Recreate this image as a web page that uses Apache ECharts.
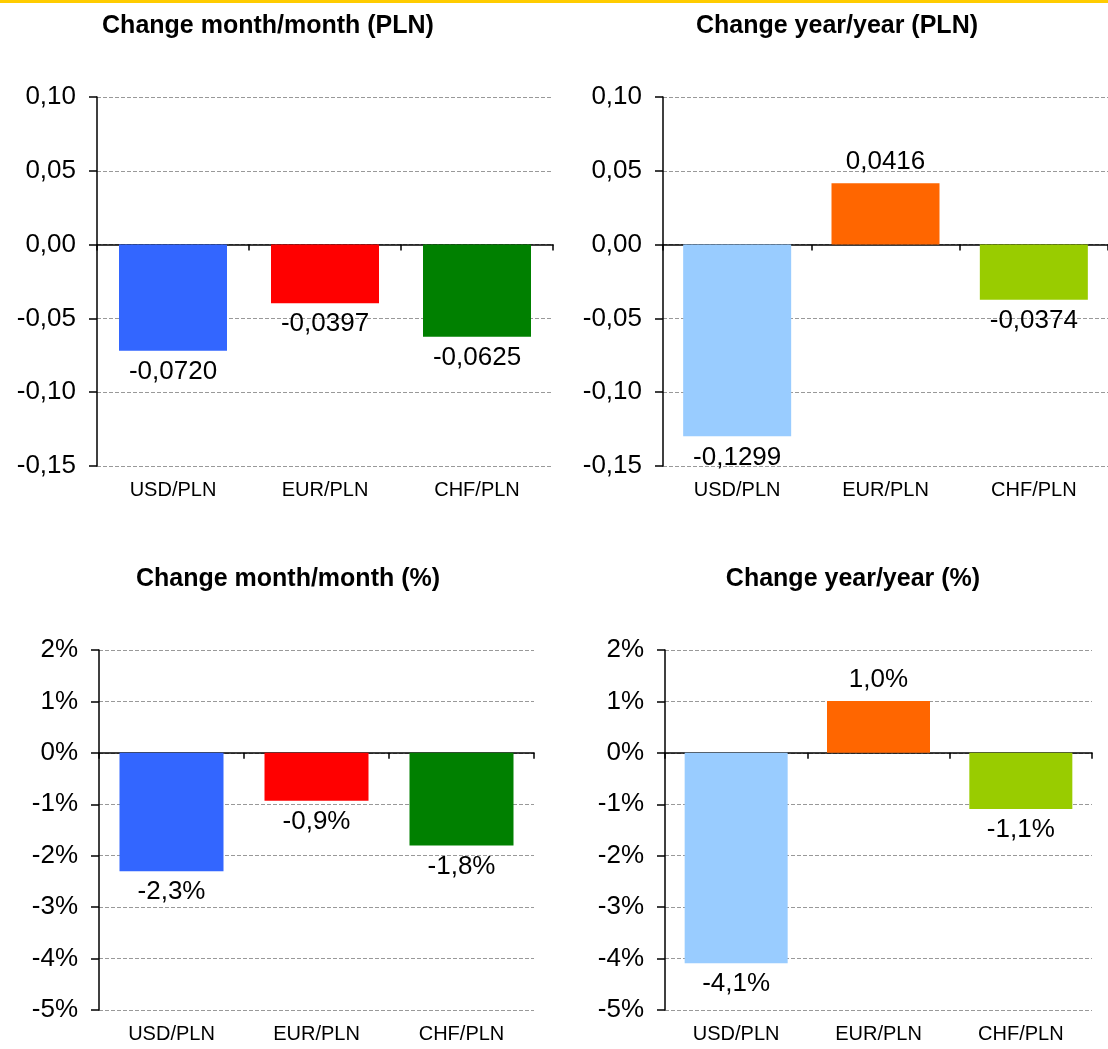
<!DOCTYPE html>
<html>
<head>
<meta charset="utf-8">
<script src="https://cdn.jsdelivr.net/npm/echarts@6/dist/echarts.min.js"></script>
<style>
  html, body { margin: 0; padding: 0; background: #fff; }
  #chart { width: 1108px; height: 1049px; }
</style>
</head>
<body>
<div id="chart"></div>
<script>
// data
var pairs = ["USD/PLN", "EUR/PLN", "CHF/PLN"];
var monthPln = [-0.0720, -0.0397, -0.0625];
var yearPln = [-0.1299, 0.0416, -0.0374];
var monthPct = [-2.3, -0.93, -1.8];
var yearPct = [-4.09, 1.01, -1.09];
var monthColors = ["#3366FF", "#FF0000", "#008000"];
var yearColors = ["#99CCFF", "#FF6600", "#99CC00"];
var titles = ["Change month/month (PLN)", "Change year/year (PLN)", "Change month/month (%)", "Change year/year (%)"];

var font = "Arial, 'Liberation Sans', sans-serif";

function plnFmt(v, d) {
  return v.toFixed(d).replace(".", ",");
}
function pctFmt(v, d) {
  return v.toFixed(d).replace(".", ",") + "%";
}

// grid boxes
var grids = [
  { left: 97, top: 97, width: 456, height: 369 },
  { left: 663, top: 97, width: 453, height: 369 },
  { left: 99, top: 650, width: 435, height: 360 },
  { left: 665, top: 650, width: 427, height: 360 }
];
var barWidths = [108, 108, 104, 103];
var values = [monthPln, yearPln, monthPct, yearPct];
var colors = [monthColors, yearColors, monthColors, yearColors];
var isPct = [false, false, true, true];
var titlePos = [[263, 9], [832, 9], [283, 562], [848, 562]];

var xAxes = [];
var yAxes = [];
var series = [];
var titleList = [];

for (var i = 0; i < 4; i++) {
  // zero line with ticks
  xAxes.push({
    type: "category",
    gridIndex: i,
    data: pairs,
    axisLine: { onZero: true, lineStyle: { color: "#000", width: 1.5 } },
    axisTick: { show: true, length: 6, lineStyle: { color: "#000", width: 1.5 } },
    axisLabel: { show: false },
    splitLine: { show: false }
  });
  // bottom labels
  xAxes.push({
    type: "category",
    gridIndex: i,
    data: pairs,
    position: "bottom",
    axisLine: { show: false, onZero: false },
    axisTick: { show: false },
    axisLabel: { color: "#000", fontSize: 20, fontFamily: font, margin: 14 },
    splitLine: { show: false }
  });
  (function (pct) {
    yAxes.push({
      type: "value",
      gridIndex: i,
      min: pct ? -5 : -0.15,
      max: pct ? 2 : 0.10,
      interval: pct ? 1 : 0.05,
      axisLine: { show: true, lineStyle: { color: "#000", width: 1.5 } },
      axisTick: { show: true, length: 8, lineStyle: { color: "#000", width: 1.5 } },
      axisLabel: {
        color: "#000",
        fontSize: 26,
        fontFamily: font,
        margin: 21,
        formatter: function (v) {
          return pct ? pctFmt(v, 0) : plnFmt(v, 2);
        }
      },
      splitLine: { show: true, lineStyle: { color: "#999", width: 1, type: [4, 2] } }
    });
    series.push({
      type: "bar",
      xAxisIndex: i * 2,
      yAxisIndex: i,
      barWidth: barWidths[i],
      data: values[i].map(function (v, k) {
        return {
          value: v,
          itemStyle: { color: colors[i][k] },
          label: { position: v >= 0 ? "top" : "bottom" }
        };
      }),
      label: {
        show: true,
        distance: 8,
        color: "#000",
        fontSize: 26,
        fontFamily: font,
        formatter: function (p) {
          return pct ? pctFmt(p.value, 1) : plnFmt(p.value, 4);
        }
      },
      animation: false
    });
  })(isPct[i]);
  titleList.push({
    text: titles[i],
    left: titlePos[i][0],
    top: titlePos[i][1],
    textAlign: "center",
    textStyle: { color: "#000", fontSize: 25, fontWeight: "bold", fontFamily: font }
  });
}

var chart = echarts.init(document.getElementById("chart"));
chart.setOption({
  backgroundColor: "#fff",
  animation: false,
  title: titleList,
  grid: grids,
  xAxis: xAxes,
  yAxis: yAxes,
  series: series,
  graphic: [
    { type: "rect", left: 0, top: 0, shape: { width: 1108, height: 3 }, style: { fill: "#FFCC00" } }
  ]
});
</script>
</body>
</html>
